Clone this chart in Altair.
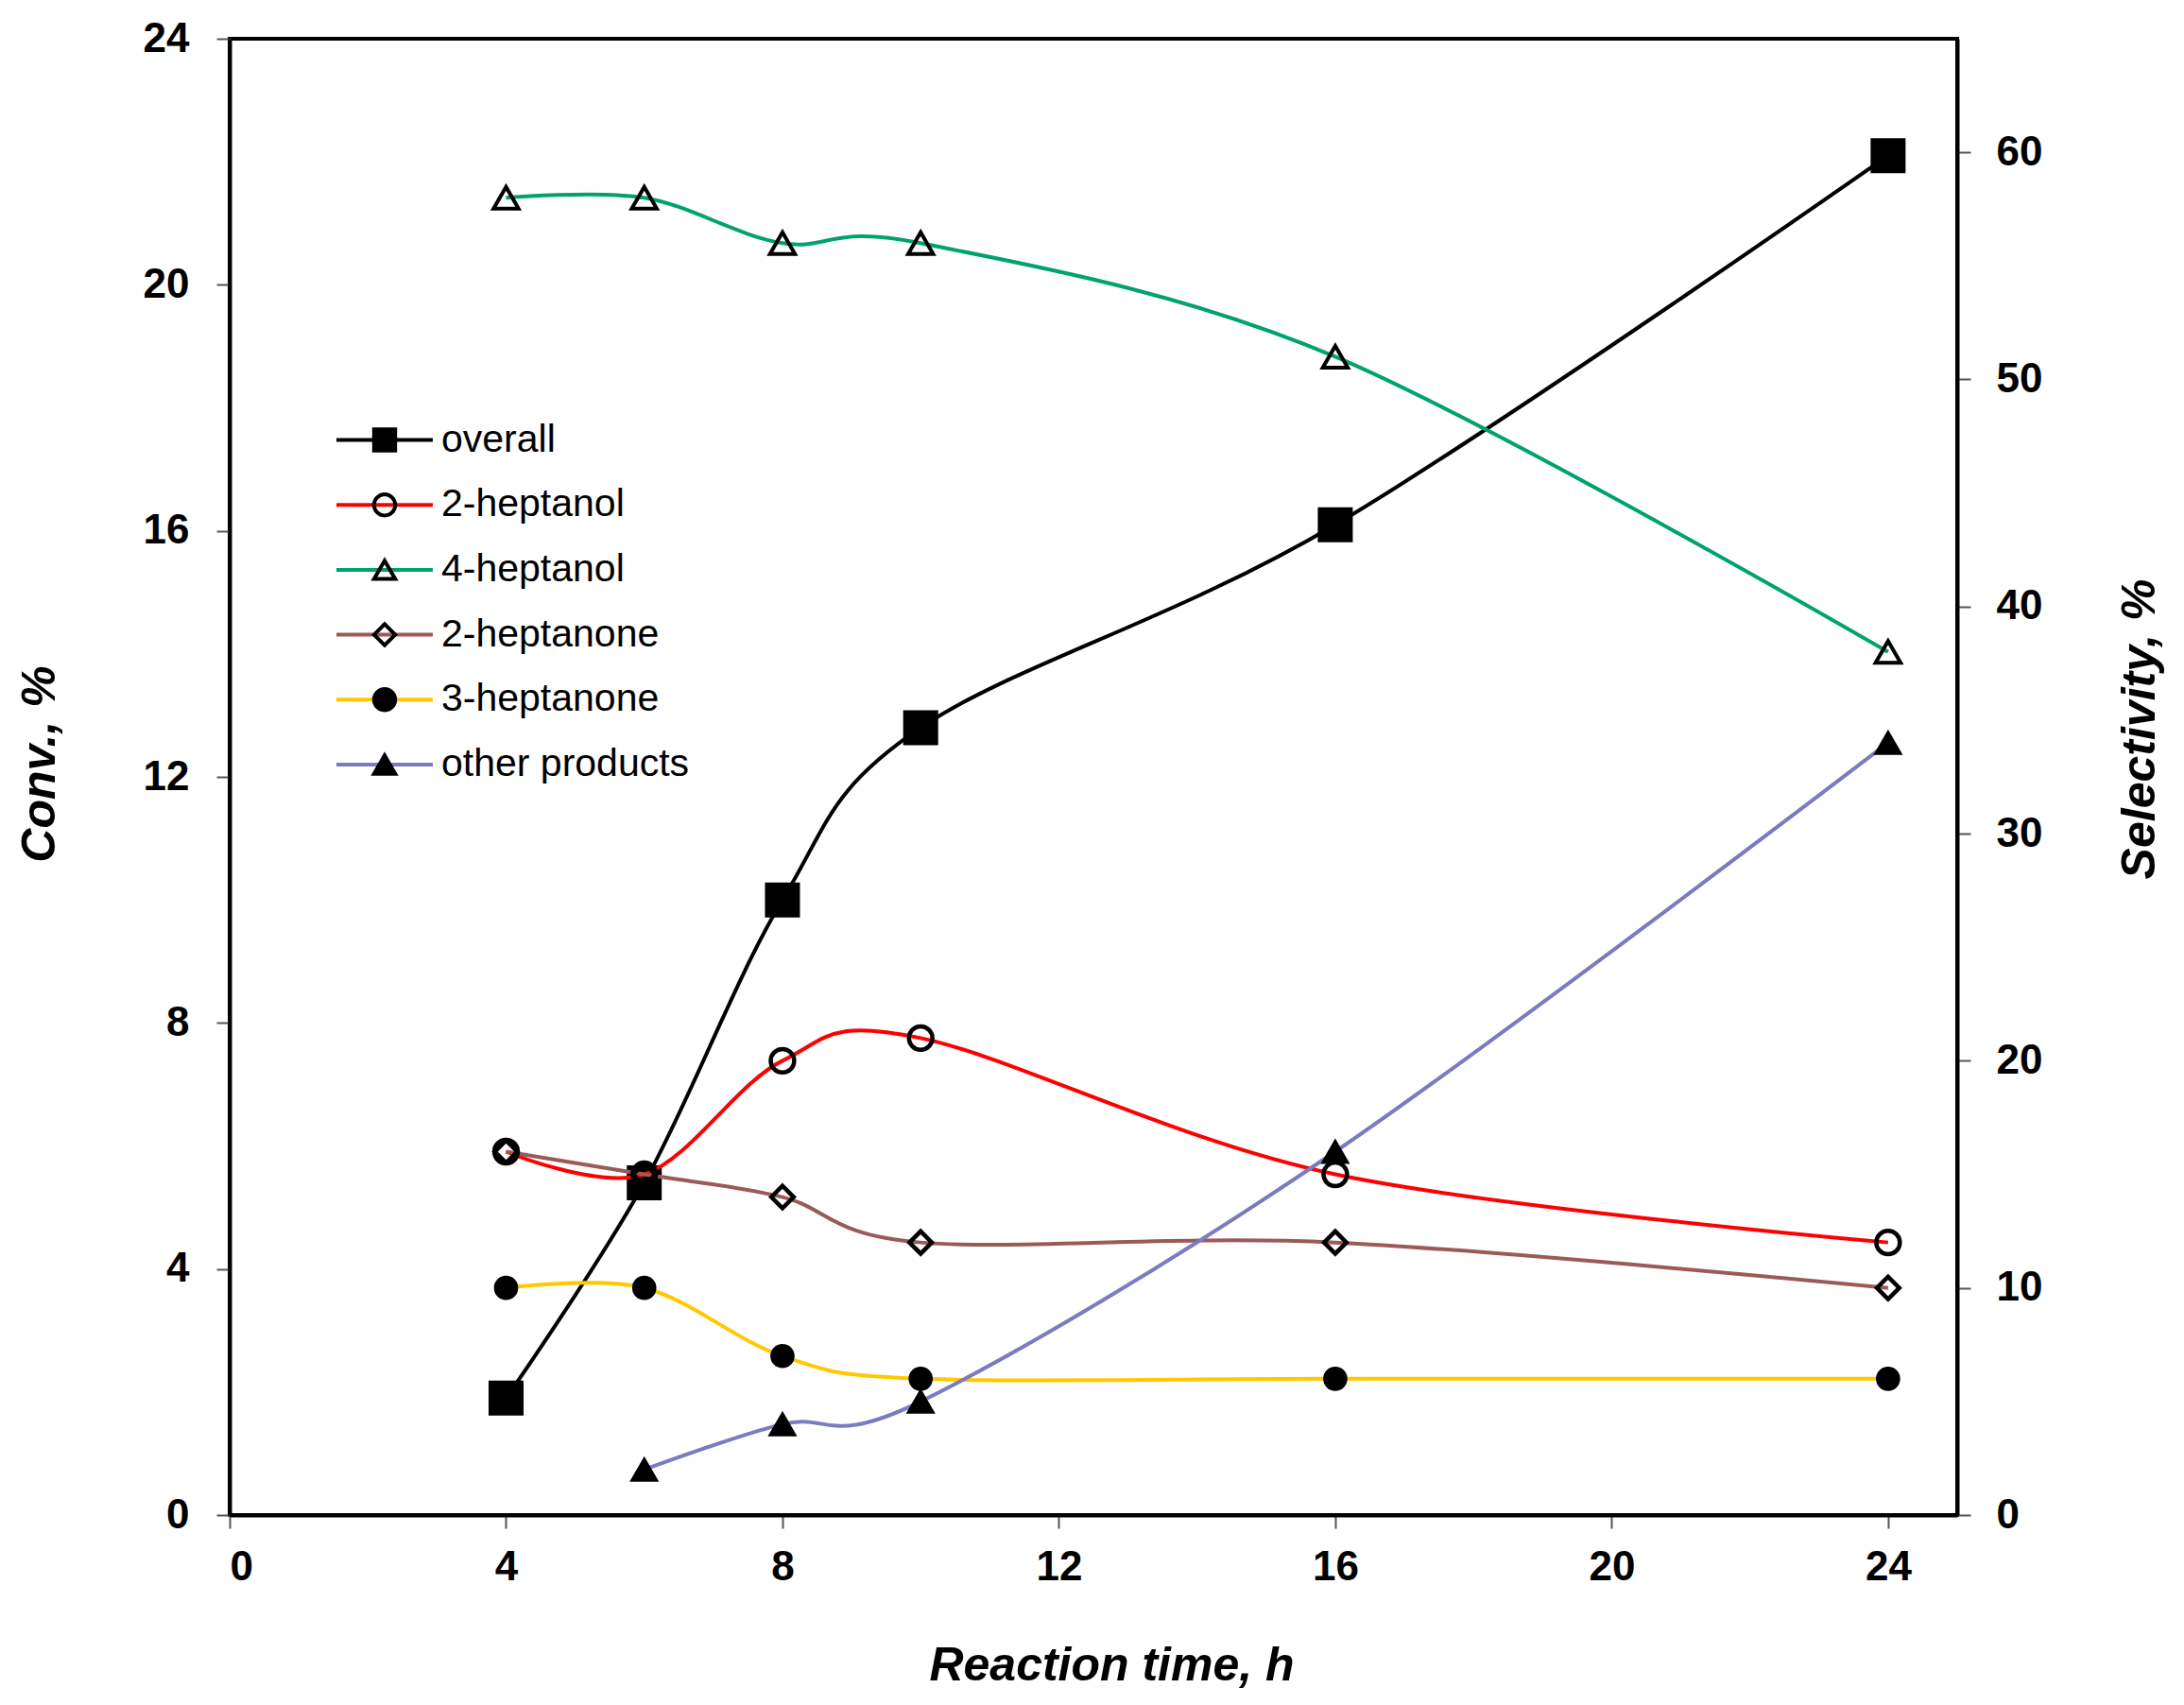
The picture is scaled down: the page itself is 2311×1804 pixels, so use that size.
import altair as alt
import pandas as pd

# ---- data ----
time_h = [4, 6, 8, 10, 16, 24]
overall = [1.9, 5.4, 10.0, 12.8, 16.1, 22.1]          # Conv., %  (left axis)
heptanol_2 = [16, 15, 20, 21, 15, 12]                  # Selectivity, % (right axis)
heptanol_4 = [58, 58, 56, 56, 51, 38]
heptanone_2 = [16, 15, 14, 12, 12, 10]
heptanone_3 = [10, 10, 7, 6, 6, 6]
other_time = [6, 8, 10, 16, 24]
other_products = [2, 4, 5, 16, 34]

series_names = ["overall", "2-heptanol", "4-heptanol", "2-heptanone", "3-heptanone", "other products"]
marker_keys = ["m-" + s for s in series_names]   # separate key so the marker legend is not merged
line_colors = ["#000000", "#FF0000", "#00A36C", "#9B5A5A", "#FFC800", "#7B7BBF"]
marker_shapes = ["square", "circle", "triangle-up", "diamond", "circle", "triangle-up"]
marker_fills = ["#000000", "transparent", "transparent", "transparent", "#000000", "#000000"]
marker_strokes = ["#000000"] * 6

x_ticks = [0, 4, 8, 12, 16, 20, 24]
left_ticks = [0, 4, 8, 12, 16, 20, 24]
right_ticks = [0, 10, 20, 30, 40, 50, 60]

conv_df = pd.DataFrame({"time": time_h, "value": overall, "series": "overall",
                        "series_m": "m-overall"})
sel_rows = []
for name, tt, vv in [("2-heptanol", time_h, heptanol_2), ("4-heptanol", time_h, heptanol_4),
                     ("2-heptanone", time_h, heptanone_2), ("3-heptanone", time_h, heptanone_3),
                     ("other products", other_time, other_products)]:
    for t, v in zip(tt, vv):
        sel_rows.append({"time": t, "value": v, "series": name, "series_m": "m-" + name})
sel_df = pd.DataFrame(sel_rows)

FONT = "Liberation Sans"

x_enc = alt.X("time:Q", scale=alt.Scale(domain=[0, 25], nice=False),
              axis=alt.Axis(values=x_ticks, title="Reaction time, h", labelPadding=19,
                            titleX=933, titleY=159, titleBaseline="middle", titleAlign="center"))
y_left = alt.Y("value:Q", scale=alt.Scale(domain=[0, 24], nice=False),
               axis=alt.Axis(orient="left", values=left_ticks, title="Conv., %", labelPadding=29,
                             titleAngle=270, titleX=-201, titleY=767, titleBaseline="middle",
                             titleAlign="center"))
y_right = alt.Y("value:Q", scale=alt.Scale(domain=[0, 65], nice=False),
                axis=alt.Axis(orient="right", values=right_ticks, title="Selectivity, %", labelPadding=27,
                              titleAngle=270, titleX=193, titleY=730, titleBaseline="middle",
                              titleAlign="center"))

LEG_X = 143.5
LEG_Y = 404
ROW_PAD = 26.7
color_legend = alt.Legend(orient="none", legendX=LEG_X, legendY=LEG_Y, title=None,
                          symbolType="M-4.56,0H4.56", symbolSize=500, symbolStrokeWidth=4,
                          labelFont=FONT, labelFontSize=41, labelColor="black", labelOffset=39.5,
                          labelLimit=0, rowPadding=ROW_PAD, padding=0)
shape_legend = alt.Legend(orient="none", legendX=LEG_X, legendY=LEG_Y, title=None,
                          symbolSize=500, symbolStrokeWidth=4,
                          labelFont=FONT, labelFontSize=41, labelExpr="''", labelOffset=39.5,
                          rowPadding=ROW_PAD, padding=0)

color_enc = alt.Color("series:N", scale=alt.Scale(domain=series_names, range=line_colors),
                      legend=color_legend)
shape_enc = alt.Shape("series_m:N", scale=alt.Scale(domain=marker_keys, range=marker_shapes),
                      legend=shape_legend)
fill_enc = alt.Fill("series_m:N", scale=alt.Scale(domain=marker_keys, range=marker_fills),
                    legend=shape_legend)
stroke_enc = alt.Stroke("series_m:N", scale=alt.Scale(domain=marker_keys, range=marker_strokes),
                        legend=shape_legend)


def markers(data, y_enc, series_list, size, stroke_width):
    return alt.Chart(data).transform_filter(
        alt.FieldOneOfPredicate(field="series", oneOf=series_list)
    ).mark_point(strokeWidth=stroke_width, opacity=1, size=size).encode(
        x=x_enc, y=y_enc, shape=shape_enc, fill=fill_enc, stroke=stroke_enc)


line_conv = alt.Chart(conv_df).mark_line(interpolate="cardinal", strokeWidth=4).encode(
    x=x_enc, y=y_left, color=color_enc)
pt_conv = markers(conv_df, y_left, ["overall"], 1225, 2)
left = alt.layer(line_conv, pt_conv)

line_sel = alt.Chart(sel_df).mark_line(interpolate="cardinal", strokeWidth=4).encode(
    x=x_enc, y=y_right, color=color_enc, detail="series:N")
pt_open_circle = markers(sel_df, y_right, ["2-heptanol"], 620, 4.5)
pt_diamond = markers(sel_df, y_right, ["2-heptanone"], 560, 4.5)
pt_dot = markers(sel_df, y_right, ["3-heptanone"], 560, 2)
pt_tri_open = markers(sel_df, y_right, ["4-heptanol"], 700, 4)
pt_tri = markers(sel_df, y_right, ["other products"], 720, 2.5)
right = alt.layer(line_sel, pt_open_circle, pt_diamond, pt_dot, pt_tri_open, pt_tri)

chart = alt.layer(left, right).resolve_scale(y="independent").properties(
    width=1828, height=1562,
    autosize=alt.AutoSizeParams(type="none"),
    padding={"left": 235, "top": 33, "right": 232, "bottom": 193},
    background="white",
).configure_view(stroke="black", strokeWidth=4).configure_axis(
    grid=False, domainColor="black", domainWidth=4,
    tickColor="#555555", tickWidth=2, tickSize=14,
    labelFont=FONT, labelFontSize=44, labelFontWeight="bold", labelColor="black",
    titleFont=FONT, titleFontSize=50, titleFontWeight="bold", titleFontStyle="italic",
    titleColor="black",
)

chart.save("out.html", embed_options={"renderer": "svg", "actions": False})
